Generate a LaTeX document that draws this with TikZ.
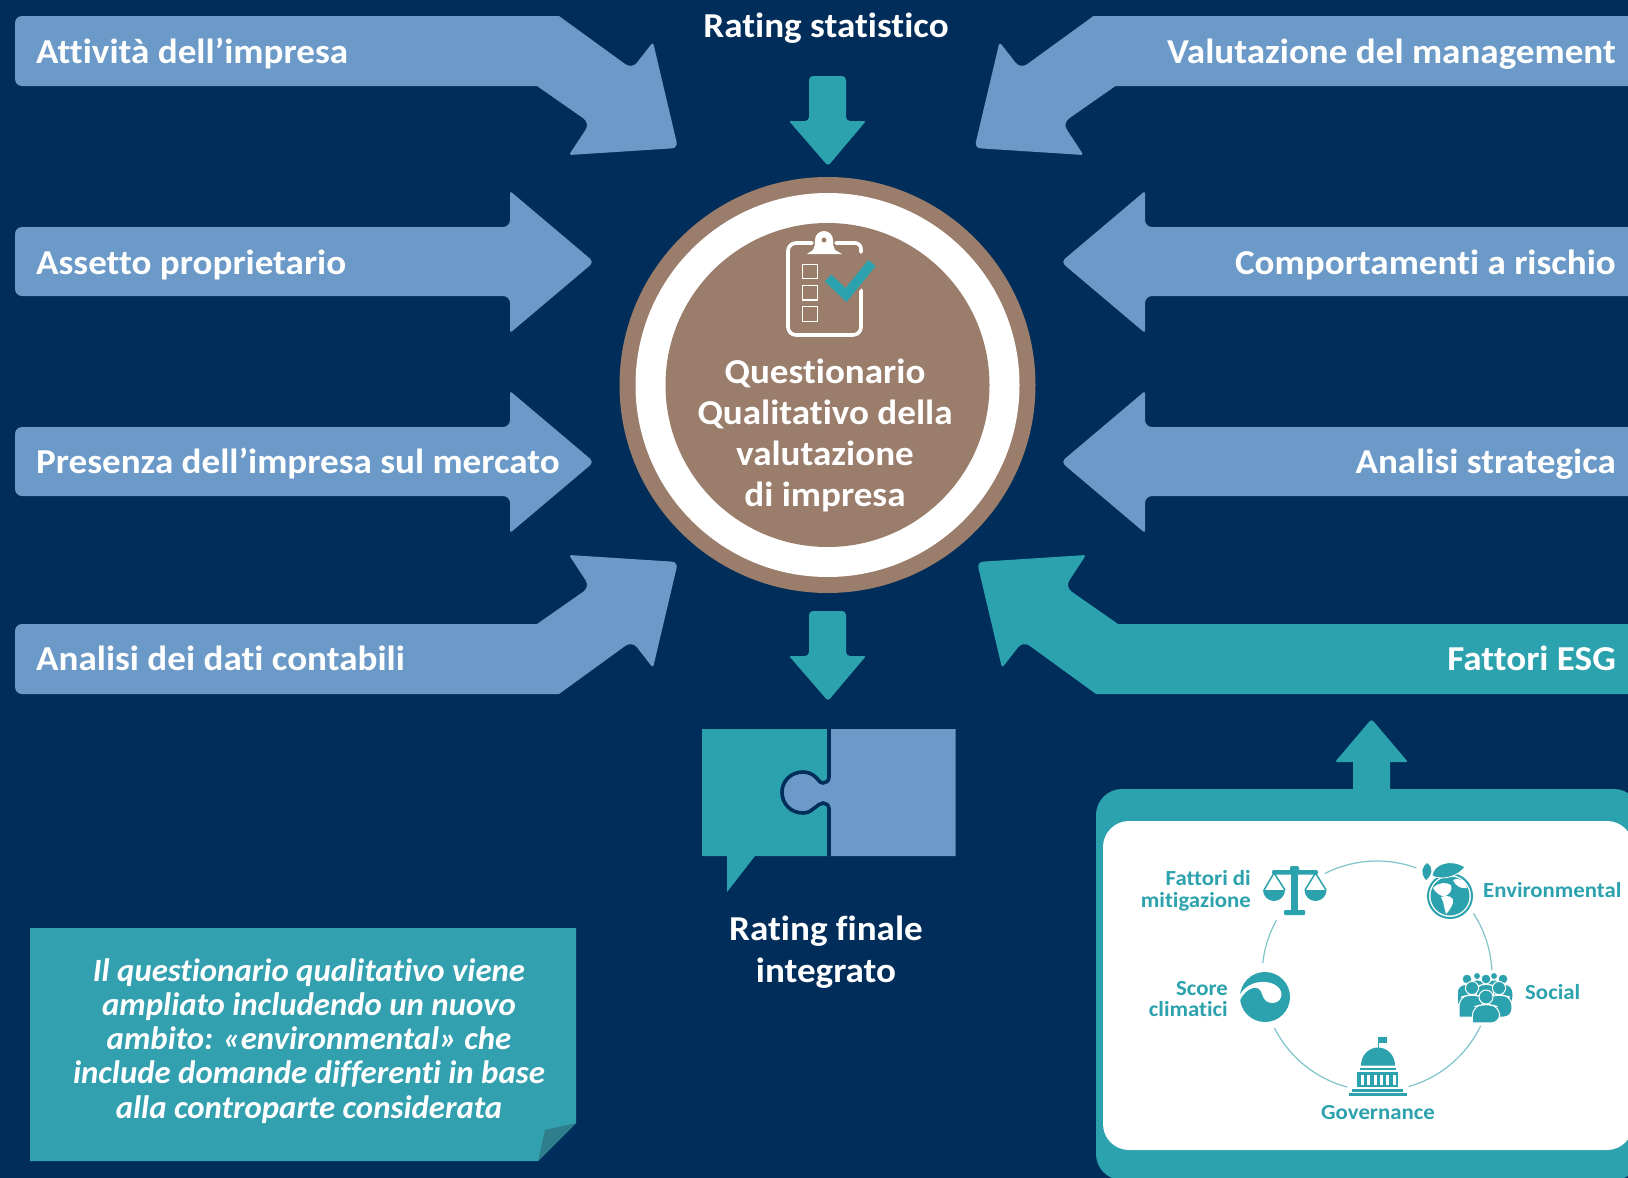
\documentclass[tikz,border=0pt]{standalone}
\usepackage{fontspec}
\setmainfont{Carlito}[FakeStretch=1.06,Ligatures=NoCommon]
\newfontfamily\notefamily{Carlito}[FakeStretch=1.01,Ligatures=NoCommon]
\definecolor{bgnavy}{HTML}{002D5A}
\definecolor{arrowblue}{HTML}{6C9AC8}
\definecolor{tealc}{HTML}{2BA2AD}
\definecolor{notec}{HTML}{33A0AF}
\definecolor{foldc}{HTML}{2E7F8B}
\definecolor{brownc}{HTML}{9A7D6B}
\definecolor{ringc}{HTML}{7FC4CB}
\newcommand{\diagarrowpath}{(15,51) [rounded corners=7] -- (15,16) [sharp corners] -- (559,16) [rounded corners=8] -- (632,69) [rounded corners=3] -- (653,42) [rounded corners=6] -- (678,148) [rounded corners=2.5] -- (569,155) [rounded corners=8] -- (590,123) [sharp corners] -- (537,86) [rounded corners=7] -- (15,86) [sharp corners] -- cycle}
\newcommand{\straightarrowpath}{(15,262) [rounded corners=7] -- (15,227) [rounded corners=7] -- (510,227) [rounded corners=2.5] -- (510,191) [rounded corners=5] -- (594,262) [rounded corners=2.5] -- (510,333) [rounded corners=7] -- (510,296) [rounded corners=7] -- (15,296) [sharp corners] -- cycle}
\newcommand{\downarrowpath}{(827.5,611) [rounded corners=4] -- (846,611) [rounded corners=4] -- (846,656) [rounded corners=1.5] -- (866,656) [rounded corners=3] -- (828,701) [rounded corners=1.5] -- (789,656) [rounded corners=4] -- (809,656) [rounded corners=4] -- (809,611) [sharp corners] -- cycle}
\newcommand{\person}[4]{% x y r bottom-factor
  \fill[tealc,draw=white,line width=1] (#1-1.95*#3,#2+#4*#3) [rounded corners=1.2*#3] -- (#1-1.95*#3,#2+1.45*#3) -- (#1-0.5*#3,#2+1.05*#3) -- (#1+0.5*#3,#2+1.05*#3) -- (#1+1.95*#3,#2+1.45*#3) -- (#1+1.95*#3,#2+#4*#3) [sharp corners] -- cycle;
  \fill[tealc,draw=white,line width=1] (#1,#2) circle[radius=#3];}
\tikzset{
  x=1pt,y=-1pt,
  big/.style={font=\fontsize{35}{41}\bfseries\selectfont,text=white,inner sep=0pt},
  lefttext/.style={big,anchor=base west},
  righttext/.style={big,anchor=base east},
  centertext/.style={big,anchor=base},
  notetext/.style={font=\notefamily\fontsize{32.5}{34}\bfseries\itshape\selectfont,text=white,inner sep=0pt,anchor=base},
  small/.style={font=\fontsize{21.5}{22}\bfseries\selectfont,text=tealc,inner sep=0pt},
  smallright/.style={small,anchor=base east},
  smallleft/.style={small,anchor=base west},
  smallcenter/.style={small,anchor=base},
  ringarc/.style={ringc,line width=1.2},
  chkbox/.style={draw=white,line width=1.7},
  mirrorx/.style={shift={(1652.5,0)},xscale=-1},
  mirrorxb/.style={shift={(1655,0)},xscale=-1},
  mirrory/.style={shift={(0,710)},yscale=-1}
}
\begin{document}
\begin{tikzpicture}
\useasboundingbox (0,0) rectangle (1628,1178);
\clip (0,0) rectangle (1628,1178);
\fill[bgnavy] (0,0) rectangle (1628,1178);
% corner arrows
\fill[arrowblue] \diagarrowpath;
\begin{scope}[mirrorx] \fill[arrowblue] \diagarrowpath; \end{scope}
\begin{scope}[mirrory] \fill[arrowblue] \diagarrowpath; \end{scope}
\begin{scope}[mirrorxb,mirrory] \fill[tealc] \diagarrowpath; \end{scope}
% straight arrows
\fill[arrowblue] \straightarrowpath;
\begin{scope}[shift={(0,200)}] \fill[arrowblue] \straightarrowpath; \end{scope}
\begin{scope}[shift={(1655,0)},xscale=-1] \fill[arrowblue] \straightarrowpath; \end{scope}
\begin{scope}[shift={(1655,200)},xscale=-1] \fill[arrowblue] \straightarrowpath; \end{scope}
% arrow labels
\node[lefttext] (l1) at (36,63) {Attività dell’impresa};
\node[lefttext] (l2) at (36,274) {Assetto proprietario};
\node[lefttext] (l3) at (36,473) {Presenza dell’impresa sul mercato};
\node[lefttext] (l4) at (36,670) {Analisi dei dati contabili};
\node[righttext] (r1) at (1616,63) {Valutazione del management};
\node[righttext] (r2) at (1616,274) {Comportamenti a rischio};
\node[righttext] (r3) at (1616,473) {Analisi strategica};
\node[righttext] (r4) at (1616,670) {Fattori ESG};
% vertical arrows
\begin{scope}[shift={(0,-535)}] \fill[tealc] \downarrowpath; \end{scope}
\fill[tealc] \downarrowpath;
\node[centertext] (rs) at (826,37) {Rating statistico};
% centre circle
\node[circle,fill=brownc,minimum size=416pt,inner sep=0pt] (c1) at (827.5,385) {};
\node[circle,fill=white,minimum size=384pt,inner sep=0pt] (c2) at (827.5,385) {};
\node[circle,fill=brownc,minimum size=324pt,inner sep=0pt] (c3) at (827.5,385) {};
% clipboard
\draw[white,line width=3.6,line cap=round] (861,290) -- (861,326) [rounded corners=8] -- (861,335) -- (788,335) -- (788,243) -- (812,243);
\draw[white,line width=3.6,line cap=round] (836,243) [rounded corners=6] -- (861,243) -- (861,252);
\fill[white] (807,254) -- (813,250) .. controls (815,247) and (815,244) .. (815,240) arc[start angle=180,end angle=360,radius=9] .. controls (833,244) and (833,247) .. (835,250) -- (842,254) -- cycle;
\fill[brownc] (824,240) circle[radius=2.5];
\draw[chkbox] (802.5,264.5) rectangle (817.5,278.5);
\draw[chkbox] (802.5,285.5) rectangle (817.5,300);
\draw[chkbox] (802.5,306.5) rectangle (817.5,321.5);
\draw[brownc,line width=14] (829,279) -- (846,296) -- (872,264);
\draw[tealc,line width=9.5] (828,278) -- (846,295) -- (872,263);
\node[centertext] (q1) at (825,383) {Questionario};
\node[centertext] (q2) at (825,424) {Qualitativo della};
\node[centertext] (q3) at (825,465) {valutazione};
\node[centertext] (q4) at (825,506) {di impresa};
% puzzle
\fill[tealc] (702,729) -- (829,729) -- (829,856) -- (755,856) -- (727,892) -- (727,856) -- (702,856) -- cycle;
\fill[arrowblue] (829,729) -- (955.5,729) -- (955.5,856) -- (829,856) -- (829,809) .. controls (829,805) and (826,803) .. (823,803) .. controls (819,803) and (818,806) .. (813,809) .. controls (810,812) and (806,813) .. (803,813) .. controls (791,813) and (782,804) .. (782,792) .. controls (782,781) and (791,772) .. (803,772) .. controls (806,772) and (810,773) .. (813,775) .. controls (818,778) and (819,783) .. (823,783) .. controls (826,783) and (829,781) .. (829,777) -- cycle;
\draw[bgnavy,line width=3.6] (829,729) -- (829,777) .. controls (829,781) and (826,783) .. (823,783) .. controls (819,783) and (818,778) .. (813,775) .. controls (810,773) and (806,772) .. (803,772) .. controls (791,772) and (782,781) .. (782,792) .. controls (782,804) and (791,813) .. (803,813) .. controls (806,813) and (810,812) .. (813,809) .. controls (818,806) and (819,803) .. (823,803) .. controls (826,803) and (829,805) .. (829,809) -- (829,856);
\node[centertext] (f1) at (826,940) {Rating finale};
\node[centertext] (f2) at (826,982) {integrato};
% note
\fill[notec] (30,928) -- (576,928) -- (576,1123) -- (538,1161) -- (30,1161) -- cycle;
\fill[foldc] (576,1123) -- (545,1130) -- (538,1161) -- cycle;
\node[notetext] (n1) at (309,981) {Il questionario qualitativo viene};
\node[notetext] (n2) at (309,1015) {ampliato includendo un nuovo};
\node[notetext] (n3) at (309,1049) {ambito: «environmental» che};
\node[notetext] (n4) at (309,1083) {include domande differenti in base};
\node[notetext] (n5) at (309,1118) {alla controparte considerata};
% ESG panel
\fill[tealc] (1371.5,790) [rounded corners=0] -- (1353,790) -- (1353,762) [rounded corners=1.5] -- (1335,762) [rounded corners=3] -- (1371.5,719) [rounded corners=1.5] -- (1408,762) [sharp corners] -- (1390,762) -- (1390,790) -- cycle;
\fill[tealc,rounded corners=26] (1096,789) rectangle (1640,1180);
\fill[white,rounded corners=26] (1103,821) rectangle (1633,1150);
% ring
\draw[ringarc] plot[smooth,domain=70:117,samples=20] ({1377+115*cos(\x)},{976-115*sin(\x)});
\draw[ringarc] plot[smooth,domain=151:173.5,samples=20] ({1377+115*cos(\x)},{976-115*sin(\x)});
\draw[ringarc] plot[smooth,domain=3:33,samples=20] ({1377+115*cos(\x)},{976-115*sin(\x)});
\draw[ringarc] plot[smooth,domain=-74:-25.7,samples=20] ({1377+115*cos(\x)},{976-115*sin(\x)});
\draw[ringarc] plot[smooth,domain=207:255,samples=20] ({1377+115*cos(\x)},{976-115*sin(\x)});
% scales icon
\fill[tealc,rounded corners=2] (1272,870) rectangle (1318,874.5);
\fill[tealc,rounded corners=2] (1290,866) rectangle (1299,872);
\fill[tealc] (1291.3,870) rectangle (1297.7,911);
\fill[tealc,rounded corners=1] (1284,910) rectangle (1305,915);
\draw[tealc,line width=1.5] (1264,890) -- (1274,873) -- (1285,890);
\draw[tealc,line width=1.5] (1305,890) -- (1315.5,873) -- (1326,890);
\fill[tealc] (1263,890) arc[start angle=180,end angle=0,radius=11] -- cycle;
\fill[tealc] (1304.5,890) arc[start angle=180,end angle=0,radius=11] -- cycle;
% globe icon
\draw[tealc,line width=2] (1450,896) circle[radius=22];
\fill[tealc] (1450,896) circle[radius=19.5];
\fill[white] (1433,888) .. controls (1439,882) and (1446,882) .. (1451,885) .. controls (1453,890) and (1449,895) .. (1445,896) .. controls (1441,897) and (1436,893) .. (1433,888) -- cycle;
\fill[white] (1441,897) .. controls (1447,894) and (1455,897) .. (1453,903) .. controls (1451,908) and (1449,911) .. (1446,914) .. controls (1444,908) and (1444,902) .. (1441,897) -- cycle;
\fill[white] (1453,880) .. controls (1460,877) and (1466,881) .. (1467,888) .. controls (1462,889) and (1456,887) .. (1453,880) -- cycle;
\fill[tealc,draw=white,line width=0.8] (1432,876) .. controls (1433,864) and (1450,858) .. (1465,867) .. controls (1458,876) and (1444,881) .. (1432,876) -- cycle;
\fill[tealc] (1427,863) .. controls (1433,866) and (1433,875) .. (1426,880) .. controls (1420,873) and (1422,867) .. (1427,863) -- cycle;
% social icon
\person{1477}{976}{3.6}{4}
\person{1494}{976}{3.6}{4}
\person{1467}{979}{5}{5}
\person{1486}{979}{5}{5}
\person{1503}{979}{5}{5}
\person{1472}{988}{6.6}{4.4}
\person{1499}{988}{6.6}{4.4}
\person{1486}{997}{7}{3.7}
% capitol icon
\fill[tealc] (1378,1037) rectangle (1379.2,1052);
\fill[tealc] (1379,1037) rectangle (1387,1043);
\fill[tealc] (1361,1065.5) .. controls (1361,1055) and (1369,1047.5) .. (1378,1047.5) .. controls (1387,1047.5) and (1395,1055) .. (1395,1065.5) -- cycle;
\fill[tealc] (1360,1067.5) rectangle (1396,1070);
\fill[tealc] (1357,1072) rectangle (1398,1087);
\foreach \cx in {1361,1367.3,1373.6,1379.9,1386.2,1392.5} \fill[white] (\cx,1074.5) rectangle (\cx+3,1085);
\fill[tealc] (1352,1089) rectangle (1403,1092);
\fill[tealc] (1349,1093) rectangle (1407,1095.5);
% score icon
\fill[tealc] (1265,997) circle[radius=25];
\fill[white] (1238,998) .. controls (1242,990) and (1247,986) .. (1252,984) .. controls (1262,980) and (1274,982) .. (1279,988) .. controls (1284,994) and (1281,1003) .. (1272,1003) .. controls (1266,1003) and (1263,998) .. (1262,994) .. controls (1261,989) and (1257,987) .. (1253,988) .. controls (1248,989) and (1243,994) .. (1240,1000) -- cycle;
% labels
\node[smallright] (t1) at (1251,885) {Fattori di};
\node[smallright] (t2) at (1251,907) {mitigazione};
\node[smallleft] (t3) at (1483,897) {Environmental};
\node[smallleft] (t4) at (1525,999) {Social};
\node[smallright] (t5) at (1228,995) {Score};
\node[smallright] (t6) at (1228,1016) {climatici};
\node[smallcenter] (t7) at (1378,1119) {Governance};
\end{tikzpicture}
\end{document}
